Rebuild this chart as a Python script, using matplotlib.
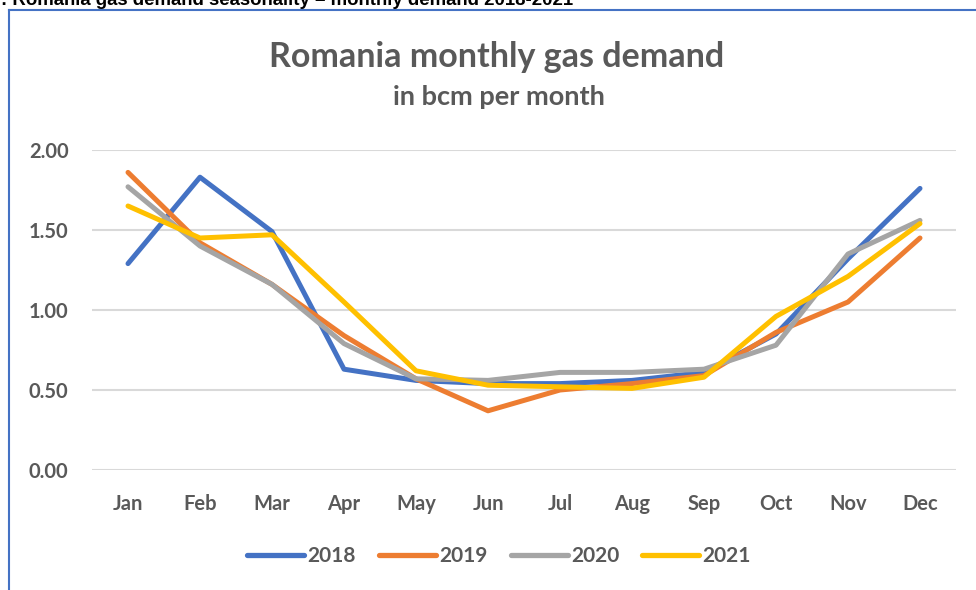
import matplotlib.pyplot as plt
from matplotlib.lines import Line2D

months = ['Jan', 'Feb', 'Mar', 'Apr', 'May', 'Jun', 'Jul', 'Aug', 'Sep', 'Oct', 'Nov', 'Dec']
demand_2018 = [1.29, 1.83, 1.49, 0.63, 0.56, 0.54, 0.54, 0.56, 0.61, 0.85, 1.32, 1.76]
demand_2019 = [1.86, 1.42, 1.16, 0.84, 0.57, 0.37, 0.50, 0.54, 0.59, 0.86, 1.05, 1.45]
demand_2020 = [1.77, 1.40, 1.16, 0.79, 0.57, 0.56, 0.61, 0.61, 0.63, 0.78, 1.35, 1.56]
demand_2021 = [1.65, 1.45, 1.47, 1.05, 0.62, 0.53, 0.52, 0.51, 0.58, 0.96, 1.21, 1.54]
years = ['2018', '2019', '2020', '2021']
colors = ['#4472C4', '#ED7D31', '#A5A5A5', '#FFC000']

txt = '#595959'
plt.rcParams['font.family'] = ['Lato', 'DejaVu Sans']

fig = plt.figure(figsize=(9.76, 5.9), dpi=100)
ax = fig.add_axes([92 / 976, 1 - 470 / 590, (956 - 92) / 976, 320 / 590])

x = range(len(months))
for vals, c in zip([demand_2018, demand_2019, demand_2020, demand_2021], colors):
    ax.plot(x, vals, color=c, lw=3.6, solid_capstyle='round', solid_joinstyle='round')

ax.set_xlim(-0.5, 11.5)
ax.set_ylim(0, 2.0)
ax.set_yticks([0, 0.5, 1.0, 1.5, 2.0])
ax.set_yticklabels(['%.2f' % v for v in [0, 0.5, 1.0, 1.5, 2.0]])
ax.set_xticks(list(x))
ax.set_xticklabels(months)
ax.grid(axis='y', color='#D9D9D9', lw=1.5)
ax.set_axisbelow(True)
for s in ax.spines.values():
    s.set_visible(False)
ax.tick_params(length=0, labelsize=14.5, labelcolor=txt)
ax.tick_params(axis='x', pad=17)
ax.tick_params(axis='y', pad=17)
for lbl in ax.get_xticklabels() + ax.get_yticklabels():
    lbl.set_fontweight('bold')
for ln in ax.get_lines():
    ln.set_clip_on(False)

fig.text(497 / 976, 1 - 67 / 590, 'Romania monthly gas demand', ha='center', va='baseline',
         fontsize=24.5, fontweight='bold', color=txt)
fig.text(499 / 976, 1 - 105 / 590, 'in bcm per month', ha='center', va='baseline',
         fontsize=19.5, fontweight='bold', color=txt)

handles = [Line2D([0], [0], color=c, lw=3.8, solid_capstyle='round') for c in colors]
fig.legend(handles, years, loc='center', bbox_to_anchor=(499 / 976, 1 - 556 / 590), ncol=4,
           frameon=False, handlelength=2.75, handletextpad=0.15, columnspacing=1.1,
           prop={'size': 15, 'weight': 'bold'}, labelcolor=txt)

# chart frame (blue border)
fig.add_artist(Line2D([9 / 976, 9 / 976], [0, 1 - 10 / 590], color='#4472C4', lw=1.5))
fig.add_artist(Line2D([9 / 976, 1], [1 - 10 / 590, 1 - 10 / 590], color='#4472C4', lw=1.5))

# caption above, cut off at the top
fig.text(1 / 976, 1 - 5 / 590, ': Romania gas demand seasonality \u2013 monthly demand 2018-2021',
         ha='left', va='baseline', fontsize=13.4, fontweight='bold', color='black',
         family='Liberation Sans')

fig.savefig('out.png', dpi=100)
